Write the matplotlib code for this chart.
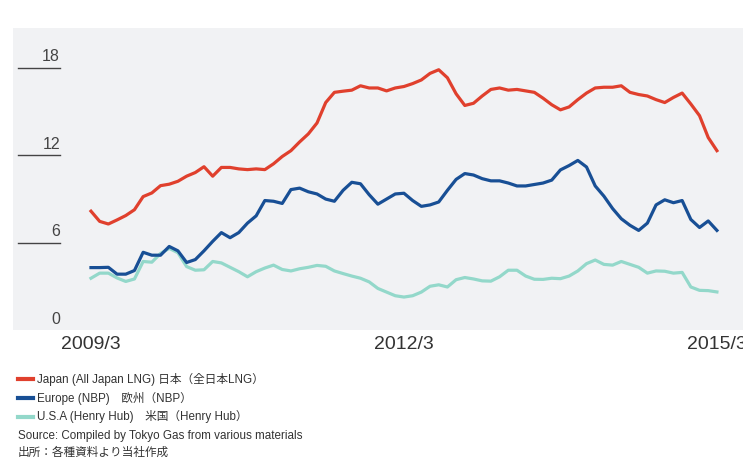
import matplotlib
matplotlib.use('Agg')
import matplotlib.pyplot as plt
from matplotlib.lines import Line2D

# Monthly prices, 2009/3 .. 2015/3 (USD/MMBtu)
japan = [8.15, 7.45, 7.27, 7.55, 7.85, 8.25, 9.15, 9.4, 9.9, 10.0, 10.2, 10.55,
         10.8, 11.2, 10.55, 11.15, 11.15, 11.05, 11.0, 11.05, 11.0, 11.4, 11.9, 12.3,
         12.9, 13.45, 14.2, 15.6, 16.3, 16.38, 16.45, 16.75, 16.6, 16.6, 16.4, 16.6,
         16.7, 16.9, 17.15, 17.6, 17.85, 17.3, 16.2, 15.4, 15.55, 16.05, 16.5, 16.6,
         16.45, 16.5, 16.4, 16.3, 15.9, 15.45, 15.1, 15.3, 15.8, 16.25, 16.6, 16.65,
         16.65, 16.75, 16.3, 16.15, 16.05, 15.8, 15.6, 15.95, 16.25, 15.5, 14.7, 13.2,
         12.3]
europe = [4.28, 4.28, 4.3, 3.83, 3.83, 4.08, 5.33, 5.13, 5.13, 5.73, 5.43, 4.63,
          4.83, 5.43, 6.08, 6.68, 6.33, 6.68, 7.33, 7.83, 8.88, 8.83, 8.68, 9.63,
          9.73, 9.48, 9.33, 8.98, 8.83, 9.58, 10.13, 10.03, 9.28, 8.63, 8.98, 9.33,
          9.38, 8.88, 8.48, 8.58, 8.78, 9.58, 10.33, 10.73, 10.63, 10.38, 10.23, 10.23,
          10.08, 9.88, 9.88, 9.98, 10.08, 10.28, 10.98, 11.28, 11.63, 11.18, 9.88, 9.18,
          8.33, 7.63, 7.18, 6.83, 7.33, 8.58, 8.93, 8.73, 8.88, 7.58, 7.03, 7.48,
          6.83]
usa = [3.55, 3.9, 3.9, 3.57, 3.33, 3.5, 4.7, 4.65, 5.25, 5.6, 5.3, 4.35,
       4.1, 4.13, 4.7, 4.6, 4.3, 4.0, 3.65, 4.0, 4.25, 4.45, 4.15, 4.05,
       4.2, 4.3, 4.43, 4.37, 4.05, 3.87, 3.7, 3.55, 3.3, 2.85, 2.6, 2.35,
       2.26, 2.35, 2.6, 3.0, 3.1, 2.95, 3.45, 3.6, 3.5, 3.37, 3.35, 3.65,
       4.1, 4.1, 3.7, 3.48, 3.47, 3.55, 3.52, 3.7, 4.05, 4.55, 4.8, 4.5,
       4.45, 4.7, 4.5, 4.3, 3.9, 4.05, 4.03, 3.9, 3.95, 2.95, 2.72, 2.7,
       2.61]

x_ticks = [0, 36, 72]
x_labels = ['2009/3', '2012/3', '2015/3']
y_ticks = [0, 6, 12, 18]

legend_labels = ['Japan (All Japan LNG) 日本（全日本LNG）',
                 'Europe (NBP)　欧州（NBP）',
                 'U.S.A (Henry Hub)　米国（Henry Hub）']
source_lines = ['Source: Compiled by Tokyo Gas from various materials',
                '出所：各種資料より当社作成']

RED = '#e0402d'
BLUE = '#184f95'
TEAL = '#93d8ca'
BG = '#f1f2f4'
FONT = ['Liberation Sans', 'Noto Sans CJK JP']

fig = plt.figure(figsize=(7.43, 4.62), dpi=100)
ax = fig.add_axes([13 / 743, 1 - 330 / 462, 730 / 743, 302 / 462])
ax.set_facecolor(BG)
for s in ax.spines.values():
    s.set_visible(False)

months = list(range(len(japan)))
ax.plot(months, usa, color=TEAL, lw=2.3, solid_joinstyle='round')
ax.plot(months, europe, color=BLUE, lw=2.3, solid_joinstyle='round')
ax.plot(months, japan, color=RED, lw=2.3, solid_joinstyle='round')

ax.set_xlim(-8.97, 75.0)
ax.set_ylim(0, 302 / 14.58)

# y ticks: short rule with the number sitting on it
ytrans = ax.get_yaxis_transform()
for v in y_ticks:
    if v > 0:
        ax.plot([5 / 730, 47 / 730], [v, v], transform=ytrans, color='#444444',
                lw=1.0, clip_on=False)
    ax.annotate(str(v), xy=(47 / 730, v), xycoords=ytrans, xytext=(0, 2.5),
                textcoords='offset points', ha='right', va='bottom',
                fontsize=11.5, color='#444444', family=FONT)
ax.set_yticks([])

ax.set_xticks(x_ticks)
ax.set_xticklabels(x_labels, family=FONT, fontsize=14, color='#333333')
ax.tick_params(axis='x', length=0, pad=4)

# legend + source notes below the chart
colors = [RED, BLUE, TEAL]
ys = [379, 398, 416.5]
for c, lab, y in zip(colors, legend_labels, ys):
    fy = 1 - y / 462
    fig.add_artist(Line2D([18 / 743, 33 / 743], [fy, fy], color=c, lw=3,
                          transform=fig.transFigure))
    fig.text(37 / 743, fy, lab, ha='left', va='center', fontsize=8.4,
             color='#333333', family=FONT)
for txt, y in zip(source_lines, [435.5, 452.5]):
    fig.text(18 / 743, 1 - y / 462, txt, ha='left', va='center', fontsize=8.4,
             color='#333333', family=FONT)

fig.savefig('out.png', dpi=100, facecolor='white')
